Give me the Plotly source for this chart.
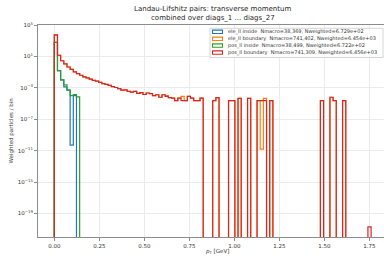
import numpy as np
import plotly.graph_objects as go

# ---------------- data ----------------
PT_MIN, PT_MAX, N_BINS = 0.0, 1.76, 100

ele_inside = [6.3e2, 1.6e-1, 1.0e-2, 1.3e-3, 5.0e-4, 5.0e-11, 1.0e-4] + [0] * 93
pos_inside = [6.3e2, 1.4e-1, 1.0e-2, 2.3e-3, 5.0e-4, 1.0e-4, 1.4e-4, 7.1e-5] + [0] * 92

pos_boundary = [
    5.6e3, 1.4e1, 2.8, 1.1, 4.5e-1, 2.2e-1, 1.1e-1, 6.3e-2, 4.0e-2, 2.5e-2,
    1.8e-2, 1.3e-2, 8.9e-3, 7.1e-3, 5.0e-3, 3.5e-3, 2.8e-3, 2.0e-3, 1.4e-3, 1.1e-3,
    7.9e-4, 5.0e-4, 5.6e-4, 3.5e-4, 2.8e-4, 3.5e-4, 2.0e-4, 2.5e-4, 1.4e-4, 2.2e-4,
    1.8e-4, 1.0e-4, 1.3e-4, 6.3e-5, 1.3e-4, 7.9e-5, 5.6e-5, 5.0e-5, 2.3e-5, 5.0e-5,
    2.3e-5, 2.3e-5, 7.9e-5, 5.0e-5, 2.3e-5, 2.3e-5, 5.0e-5, 0, 0, 0,
    2.3e-5, 5.5e-5, 0, 0, 0, 2.3e-5, 2.3e-5, 0, 4.5e-5, 0,
    0, 4.5e-5, 0, 0, 2.3e-5, 2.3e-5, 2.3e-5, 0, 2.3e-5, 0,
    0, 0, 0, 0, 0, 0, 0, 0, 0, 0,
    0, 0, 0, 0, 2.3e-5, 0, 0, 6.3e-5, 2.3e-5, 0,
    0, 2.3e-5, 0, 0, 0, 0, 0, 0, 0, 2.0e-21,
]

ele_boundary = [
    5.6e3, 1.4e1, 2.8, 1.1, 4.5e-1, 2.2e-1, 1.1e-1, 6.3e-2, 4.0e-2, 2.5e-2,
    1.8e-2, 1.3e-2, 8.9e-3, 7.1e-3, 5.0e-3, 3.5e-3, 2.8e-3, 2.0e-3, 1.4e-3, 1.1e-3,
    7.9e-4, 5.0e-4, 5.6e-4, 3.5e-4, 2.8e-4, 3.5e-4, 2.0e-4, 2.5e-4, 1.4e-4, 2.2e-4,
    1.8e-4, 1.0e-4, 1.3e-4, 6.3e-5, 1.3e-4, 1.0e-4, 5.6e-5, 5.0e-5, 2.3e-5, 5.0e-5,
    7.9e-5, 2.3e-5, 7.9e-5, 5.0e-5, 2.3e-5, 2.3e-5, 5.0e-5, 0, 0, 0,
    2.3e-5, 5.5e-5, 0, 0, 0, 2.3e-5, 2.3e-5, 0, 4.5e-5, 0,
    0, 4.5e-5, 0, 0, 2.3e-5, 1.6e-11, 4.5e-5, 0, 2.3e-5, 0,
    0, 0, 0, 0, 0, 0, 0, 0, 0, 0,
    0, 0, 0, 0, 2.3e-5, 0, 0, 6.3e-5, 2.3e-5, 0,
    0, 2.3e-5, 0, 0, 0, 0, 0, 0, 0, 0,
]

series_names = [
    "ele_ll inside  Nmacro=38,369, Nweighted=6.729e+02",
    "ele_ll boundary  Nmacro=741,402, Nweighted=6.454e+03",
    "pos_ll inside  Nmacro=38,499, Nweighted=6.722e+02",
    "pos_ll boundary  Nmacro=741,309, Nweighted=6.456e+03",
]
series_values = [ele_inside, ele_boundary, pos_inside, pos_boundary]
series_colors = ["#1f77b4", "#ff7f0e", "#2ca02c", "#d62728"]

x_ticks = [0.0, 0.25, 0.5, 0.75, 1.0, 1.25, 1.5, 1.75]
y_tick_exps = [5, 1, -3, -7, -11, -15, -19]

# ---------------- figure ----------------
W, H = 384, 257
ML, MR, MT, MB = 38, 0, 25, 20
PW, PH = W - ML - MR, H - MT - MB

edges = np.linspace(PT_MIN, PT_MAX, N_BINS + 1)
FLOOR = 1e-30

fig = go.Figure()
for name, vals, col in zip(series_names, series_values, series_colors):
    v = [val if val > 0 else FLOOR for val in vals]
    xs = [edges[0]] + list(edges)
    ys = [FLOOR] + v + [FLOOR]
    fig.add_trace(go.Scatter(
        x=xs, y=ys, mode="lines", line=dict(color=col, width=1.2, shape="hv"),
        name=name, showlegend=False, hoverinfo="skip",
    ))

def sup(e):
    s = str(e).replace("-", "\u2212")
    return f"10<sup>{s}</sup>"

axis_font = dict(family="DejaVu Sans", size=5.5, color="#333333")

fig.update_layout(
    width=W, height=H, autosize=False,
    margin=dict(l=ML, r=MR, t=MT, b=MB, pad=0),
    paper_bgcolor="white", plot_bgcolor="white",
    font=dict(family="DejaVu Sans", color="#333333"),
    xaxis=dict(
        range=[(ML - 54.3) / 180.0, (W - 54.3) / 180.0],
        tickvals=x_ticks, tickformat=".2f",
        showline=True, linecolor="#8c8c8c", linewidth=1, mirror=True,
        ticks="outside", ticklen=3, tickcolor="#8c8c8c", tickwidth=0.8,
        showgrid=True, gridcolor="#ebebeb", gridwidth=0.8,
        zeroline=False, tickfont=axis_font, automargin=False,
    ),
    yaxis=dict(
        type="log", range=[-22, 5],
        tickvals=[10.0 ** e for e in y_tick_exps],
        ticktext=[sup(e) for e in y_tick_exps],
        showline=True, linecolor="#8c8c8c", linewidth=1, mirror=False,
        ticks="outside", ticklen=3, tickcolor="#8c8c8c", tickwidth=0.8,
        showgrid=True, gridcolor="#ebebeb", gridwidth=0.8,
        zeroline=False, tickfont=axis_font, automargin=False,
    ),
    showlegend=False,
)

def px_x(p):
    return (p - ML) / PW

def px_y(p):
    return (H - MB - p) / PH

annotations = [
    dict(text="Landau-Lifshitz pairs: transverse momentum", x=px_x(212.5), y=px_y(9),
         xref="paper", yref="paper", xanchor="center", yanchor="middle", showarrow=False,
         font=dict(size=7, color="#262626")),
    dict(text="combined over diags_1 ... diags_27", x=px_x(212.5), y=px_y(18.5),
         xref="paper", yref="paper", xanchor="center", yanchor="middle", showarrow=False,
         font=dict(size=7, color="#262626")),
    dict(text="Weighted particles / bin", x=px_x(10.5), y=px_y(131),
         xref="paper", yref="paper", xanchor="center", yanchor="middle", showarrow=False,
         textangle=-90, font=dict(size=5.5, color="#333333")),
    dict(text="<i>p</i><sub>T</sub> [GeV]", x=px_x(216.5), y=px_y(251.5),
         xref="paper", yref="paper", xanchor="center", yanchor="middle", showarrow=False,
         font=dict(size=5.5, color="#333333")),
]

shapes = [
    dict(type="rect", xref="paper", yref="paper",
         x0=px_x(210), x1=px_x(383), y0=px_y(57.5), y1=px_y(28.3),
         line=dict(color="#cccccc", width=0.8), fillcolor="rgba(255,255,255,0.85)", layer="above"),
]
row_y = [31.8, 38.8, 45.6, 52.6]
for ry, name, col in zip(row_y, series_names, series_colors):
    shapes.append(dict(type="rect", xref="paper", yref="paper",
                       x0=px_x(212.5), x1=px_x(222.5), y0=px_y(ry + 1.7), y1=px_y(ry - 1.7),
                       line=dict(color=col, width=1.1), fillcolor="white", layer="above"))
    annotations.append(dict(text=name, x=px_x(225.5), y=px_y(ry), xref="paper", yref="paper",
                            xanchor="left", yanchor="middle", showarrow=False,
                            font=dict(size=5, color="#333333")))

fig.update_layout(annotations=annotations, shapes=shapes)
fig.write_html(
    "out.html",
    config={"displayModeBar": False},
    post_script="document.body.style.margin='0';document.body.style.padding='0';document.body.style.overflow='hidden';",
)
